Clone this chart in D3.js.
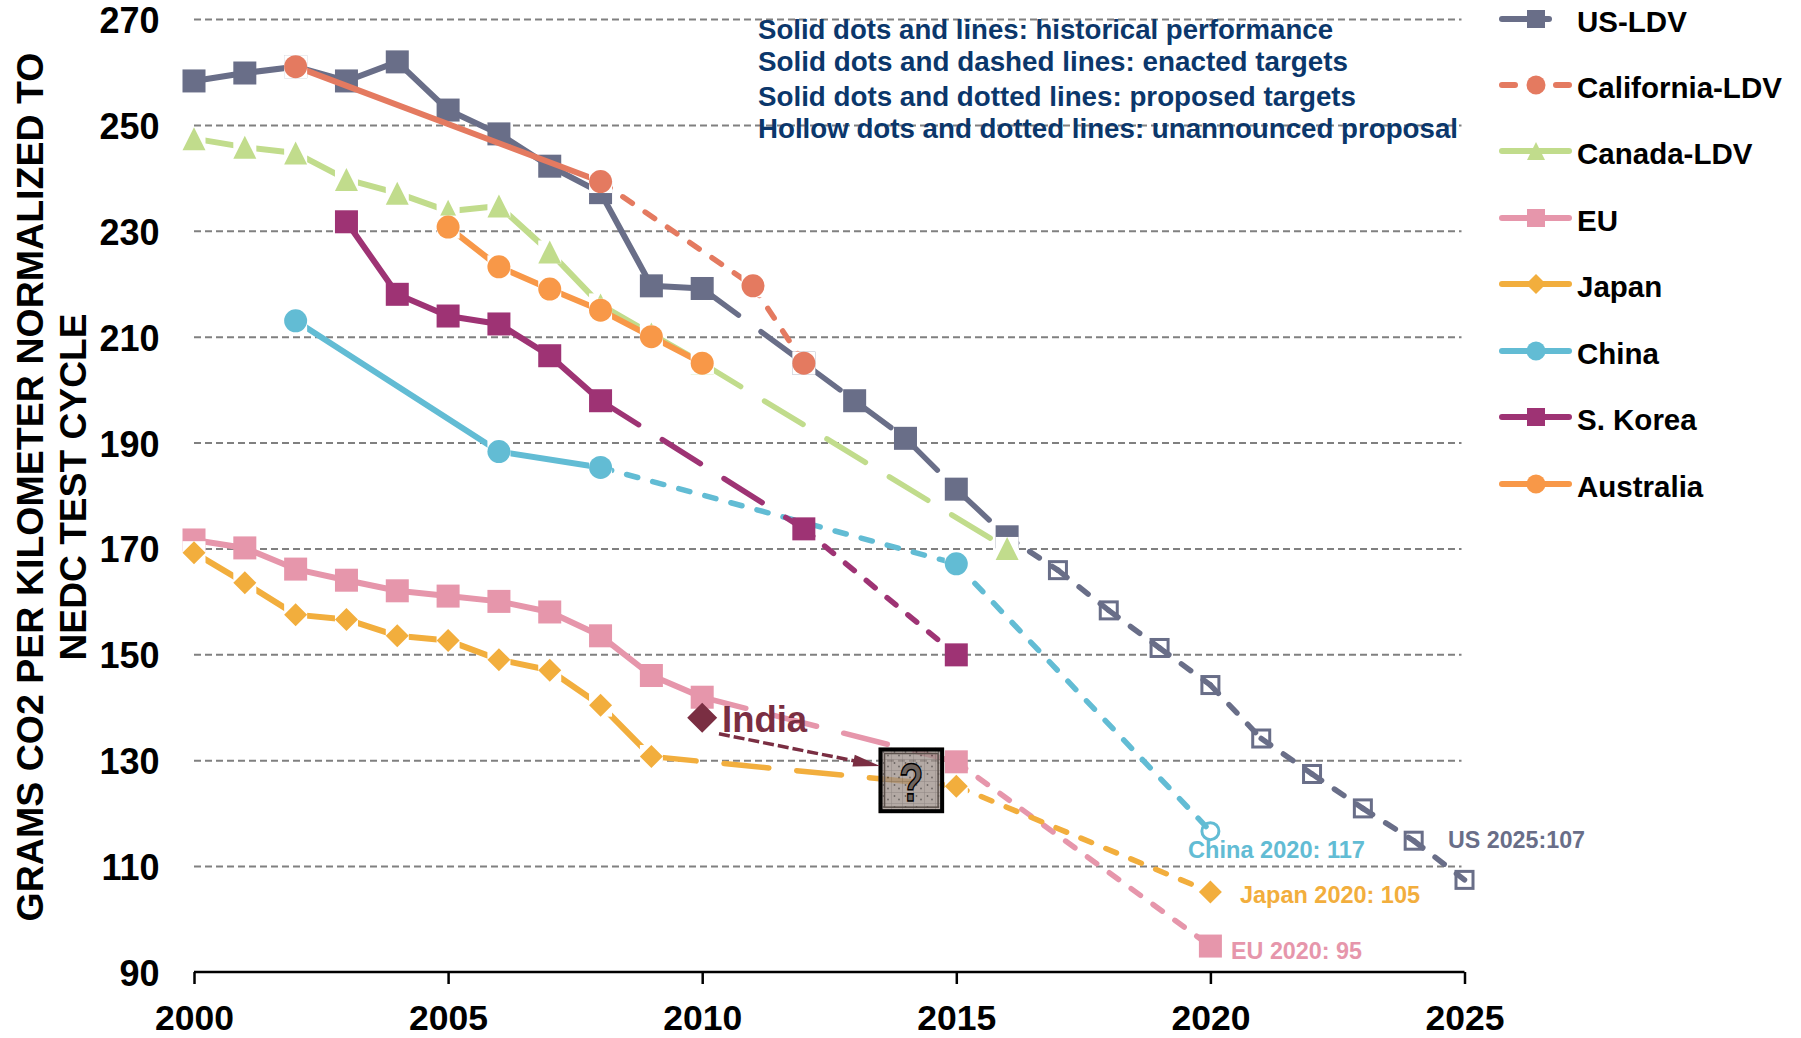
<!DOCTYPE html>
<html><head><meta charset="utf-8"><title>CO2 standards</title>
<script src="https://cdn.jsdelivr.net/npm/d3@7/dist/d3.min.js"></script>
<style>
html,body{margin:0;padding:0;background:#fff}
svg{display:block}
text{font-family:"Liberation Sans",Arial,sans-serif;font-weight:700}
</style></head><body><svg id="c" width="1801" height="1038"></svg>
<script>
// ---- data ----
const seriesNames = ["US-LDV","California-LDV","Canada-LDV","EU","Japan","China","S. Korea","Australia"];
const xTicks = [2000,2005,2010,2015,2020,2025];
const yTicks = [90,110,130,150,170,190,210,230,250,270];

const usYears  = [2000,2001,2002,2003,2004,2005,2006,2007,2008,2009,2010,2012,2013,2014,2015,2016,2017,2018,2019,2020,2021,2022,2023,2024,2025];
const usValues = [258.3,259.8,261,258.3,261.9,252.8,248.3,242.2,237.2,219.6,219.1,205,197.9,190.8,181.2,172.2,165.9,158.3,151.2,144.2,134.1,127.4,120.9,114.8,107.4];
const caYears  = [2002,2008,2011,2012];
const caValues = [261,239.3,219.6,205];
const cnYears  = [2000,2001,2002,2003,2004,2005,2006,2007,2008,2009,2010,2016];
const cnValues = [247.4,245.8,244.7,239.7,237.1,233.7,234.7,226,216,210.5,205,170];
const euYears  = [2000,2001,2002,2003,2004,2005,2006,2007,2008,2009,2010,2015,2020];
const euValues = [171.6,170.1,166.1,164,162,161,160,158,153.5,146,141.9,129.7,94.9];
const jpYears  = [2000,2001,2002,2003,2004,2005,2006,2007,2008,2009,2015,2020];
const jpValues = [169.2,163.5,157.5,156.6,153.5,152.6,149,147,140.4,130.7,125.1,105.1];
const chYears  = [2002,2006,2008,2015,2020];
const chValues = [213,188.3,185.3,167.1,116.6];
const krYears  = [2003,2004,2005,2006,2007,2008,2012,2015];
const krValues = [231.7,218,213.9,212.4,206.4,197.9,173.7,149.9];
const auYears  = [2005,2006,2007,2008,2009,2010];
const auValues = [230.7,223.2,219,215,210,205];

const indiaYear = [2010];
const indiaValue = [138];
const indiaArrowYears = [2010.33,2013.5];
const indiaArrowValues = [135,128.9];
const unknownBoxYears = [2013.47,2014.76];
const unknownBoxValues = [132.4,120];

const notes = ["Solid dots and lines: historical performance","Solid dots and dashed lines: enacted targets","Solid dots and dotted lines: proposed targets","Hollow dots and dotted lines: unannounced proposal"];
const yTitle = ["GRAMS CO2 PER KILOMETER NORMALIZED TO","NEDC TEST CYCLE"];
const endLabels = ["US 2025:107","China 2020: 117","Japan 2020: 105","EU 2020: 95"];

// ---- styling ----
const colors = {"US-LDV":"#696E88","California-LDV":"#E47A60","Canada-LDV":"#C1DC8C","EU":"#E696AB","Japan":"#F2AE3D","China":"#62BCD4","S. Korea":"#9E3374","Australia":"#F89848"};
const indiaColor = "#7A2E42", navy = "#0B376B";
const DASH = {solid:null,long:"45 28",short:"11.5 15.5"};
function kinds(n,runs){const k=[];for(let i=0;i<n;i++){let cur="solid";runs.forEach(r=>{if(i>=r[0])cur=r[1]});k.push(cur)}return k}
const series = [
 {name:"US-LDV",yrs:usYears,vals:usValues,shape:"square",runs:[[0,"solid"],[10,"long"],[15,"short"]],hollowFrom:16},
 {name:"California-LDV",yrs:caYears,vals:caValues,shape:"circle",runs:[[0,"solid"],[1,"short"]]},
 {name:"Canada-LDV",yrs:cnYears,vals:cnValues,shape:"triangle",runs:[[0,"solid"],[10,"long"]]},
 {name:"EU",yrs:euYears,vals:euValues,shape:"square",runs:[[0,"solid"],[10,"long"],[11,"short"]]},
 {name:"Japan",yrs:jpYears,vals:jpValues,shape:"diamond",runs:[[0,"solid"],[9,"long"],[10,"short"]]},
 {name:"China",yrs:chYears,vals:chValues,shape:"circle",runs:[[0,"solid"],[2,"short"]],hollowFrom:4},
 {name:"S. Korea",yrs:krYears,vals:krValues,shape:"square",runs:[[0,"solid"],[5,"long"],[6,"short"]]},
 {name:"Australia",yrs:auYears,vals:auValues,shape:"circle",runs:[[0,"solid"]]}
];

const svg = d3.select("#c");
const x = d3.scaleLinear().domain([2000,2025]).range([194,1464.5]);
const y = d3.scaleLinear().domain([90,270]).range([972,19]);
const line = d3.line().x(d=>x(d[0])).y(d=>y(d[1]));

// pattern for the "?" box
const defs = svg.append("defs");
const pat = defs.append("pattern").attr("id","tex").attr("patternUnits","userSpaceOnUse").attr("width",11).attr("height",11);
pat.append("rect").attr("width",11).attr("height",11).attr("fill","#9C8F89");
pat.append("path").attr("d","M0 0H11M0 0V11").attr("stroke","#5d524d").attr("stroke-width",1).attr("opacity",.8);
pat.append("circle").attr("cx",3.5).attr("cy",4).attr("r",.9).attr("fill","#3d3531");
pat.append("circle").attr("cx",8).attr("cy",7.5).attr("r",.9).attr("fill","#3d3531");

// gridlines
const grid = svg.append("g").attr("transform",`translate(${x(2000)},0)`)
  .call(d3.axisLeft(y).tickValues(yTicks.filter(v=>v>90)).tickSize(-(x(2025)-x(2000)-3)).tickFormat(""));
grid.select(".domain").remove();
grid.selectAll("line").attr("stroke","#808080").attr("stroke-width",2).attr("stroke-dasharray","7 4");

// y tick labels
const yAx = svg.append("g").attr("transform","translate(159.5,0.5)")
  .call(d3.axisLeft(y).tickValues(yTicks).tickSize(0).tickPadding(0));
yAx.select(".domain").remove();
yAx.selectAll("text").attr("font-size",36).attr("font-family",'"Liberation Sans",Arial,sans-serif').attr("font-weight",700).attr("fill","#000").attr("dy","0.36em");

// x axis
const xAx = svg.append("g").attr("transform",`translate(0,${y(90)})`)
  .call(d3.axisBottom(x).tickValues(xTicks).tickFormat(d3.format("d")).tickSizeOuter(0).tickSize(12).tickPadding(0));
xAx.select(".domain").attr("stroke","#000").attr("stroke-width",2.5).attr("d",`M${x(2000)},0H${x(2025)}`);
xAx.selectAll("line").attr("stroke","#000").attr("stroke-width",2.5);
xAx.selectAll("text").attr("font-size",35.5).attr("font-family",'"Liberation Sans",Arial,sans-serif').attr("font-weight",700).attr("fill","#000").attr("y",58).attr("dy",0);

// y title
svg.append("text").attr("transform","translate(43,487) rotate(-90)").attr("x",-434.5)
  .attr("font-size",37).attr("textLength",869).attr("lengthAdjust","spacingAndGlyphs").attr("fill","#000").text(yTitle[0]);
svg.append("text").attr("transform","translate(86,487) rotate(-90)").attr("x",-173.5)
  .attr("font-size",37).attr("textLength",347).attr("lengthAdjust","spacingAndGlyphs").attr("fill","#000").text(yTitle[1]);

// marker
function drawMarker(g,shape,cx,cy,s,col,hollow){
  const h=s/2;
  if(hollow){
    if(shape==="square") g.append("rect").attr("x",cx-h+1.5).attr("y",cy-h+1.5).attr("width",s-3).attr("height",s-3).attr("fill","#fff").attr("stroke",col).attr("stroke-width",3);
    else g.append("circle").attr("cx",cx).attr("cy",cy).attr("r",h-1.5).attr("fill","#fff").attr("stroke",col).attr("stroke-width",3);
    return;
  }
  if(shape==="square"){ g.append("rect").attr("x",cx-h).attr("y",cy-h).attr("width",s).attr("height",s).attr("fill",col); return; }
  g.append("rect").attr("x",cx-h).attr("y",cy-h).attr("width",s).attr("height",s).attr("fill","#fff");
  if(shape==="circle") g.append("circle").attr("cx",cx).attr("cy",cy).attr("r",h).attr("fill",col);
  if(shape==="triangle") g.append("path").attr("d",`M${cx},${cy-h}L${cx+h},${cy+h}L${cx-h},${cy+h}Z`).attr("fill",col);
  if(shape==="diamond") g.append("path").attr("d",`M${cx},${cy-h}L${cx+h},${cy}L${cx},${cy+h}L${cx-h},${cy}Z`).attr("fill",col);
}

// series
series.forEach(s=>{
  const g = svg.append("g").attr("class","series");
  const col = colors[s.name];
  const pts = d3.zip(s.yrs,s.vals);
  const k = kinds(pts.length-1,s.runs);
  pts.forEach((p,i)=>{ if(s.hollowFrom!==undefined && i>=s.hollowFrom) drawMarker(g,s.shape,x(p[0]),y(p[1]),20,col,true); });
  d3.pairs(pts).forEach((pair,i)=>{
    const seg = g.append("path").attr("d",line(pair)).attr("fill","none").attr("stroke",col)
      .attr("stroke-width",k[i]==="solid"?6:5.5).attr("stroke-linecap","round").attr("stroke-linejoin","round");
    if(DASH[k[i]]) seg.attr("stroke-dasharray",DASH[k[i]]);
  });
  pts.forEach((p,i)=>{ if(s.hollowFrom===undefined || i<s.hollowFrom) drawMarker(g,s.shape,x(p[0]),y(p[1]),23,col,false); });
});

// "?" box
const bx0=x(unknownBoxYears[0]), bx1=x(unknownBoxYears[1]), by0=y(unknownBoxValues[0]), by1=y(unknownBoxValues[1]);
const box = svg.append("g");
box.append("rect").attr("x",bx0).attr("y",by0).attr("width",bx1-bx0).attr("height",by1-by0).attr("fill","url(#tex)").attr("opacity",.76);
box.append("rect").attr("x",bx0+2).attr("y",by0+2).attr("width",bx1-bx0-4).attr("height",by1-by0-4).attr("fill","none").attr("stroke","#000").attr("stroke-width",4);
box.append("rect").attr("x",bx0+6).attr("y",by0+6).attr("width",bx1-bx0-12).attr("height",by1-by0-12).attr("fill","none").attr("stroke","#5a504b").attr("stroke-width",1.5);
box.append("text").attr("x",(bx0+bx1)/2-12).attr("y",by1-12).attr("font-size",54).attr("textLength",24).attr("lengthAdjust","spacingAndGlyphs")
  .attr("fill","#6e645e").attr("stroke","#000").attr("stroke-width",1.6).text("?");

// India
const ix=x(indiaYear[0]), iy=y(indiaValue[0]);
svg.append("path").attr("d",d3.symbol().type(d3.symbolSquare).size(2*15*15)).attr("transform",`translate(${ix},${iy}) rotate(45)`).attr("fill",indiaColor);
svg.append("text").attr("x",722).attr("y",732).attr("font-size",36.5).attr("fill",indiaColor).text("India");
const ax0=x(indiaArrowYears[0]),ay0=y(indiaArrowValues[0]),ax1=x(indiaArrowYears[1]),ay1=y(indiaArrowValues[1]);
const ang=Math.atan2(ay1-ay0,ax1-ax0), L=Math.hypot(ax1-ax0,ay1-ay0);
const ar=svg.append("g").attr("transform",`translate(${ax0},${ay0}) rotate(${ang*180/Math.PI})`);
ar.append("line").attr("x1",0).attr("x2",L-20).attr("y1",0).attr("y2",0).attr("stroke",indiaColor).attr("stroke-width",3.5).attr("stroke-dasharray","11 4");
ar.append("path").attr("d",`M${L},0L${L-27},-6L${L-27},6Z`).attr("fill",indiaColor);

// notes
const noteY=[39,71,106,138];
svg.append("g").selectAll("text").data(notes).join("text")
  .attr("x",758).attr("y",(d,i)=>noteY[i]).attr("font-size",28).attr("fill",navy).text(d=>d)
  .attr("textLength",(d,i)=>[575,590,598,700][i]).attr("lengthAdjust","spacingAndGlyphs");

// end labels
const labelPos=[[1448,848,137],[1188,858,177],[1240,903,180],[1231,959,131]];
const labelCol=[colors["US-LDV"],colors["China"],colors["Japan"],colors["EU"]];
svg.append("g").selectAll("text").data(endLabels).join("text")
  .attr("x",(d,i)=>labelPos[i][0]).attr("y",(d,i)=>labelPos[i][1]).attr("font-size",23)
  .attr("textLength",(d,i)=>labelPos[i][2]).attr("lengthAdjust","spacingAndGlyphs")
  .attr("fill",(d,i)=>labelCol[i]).text(d=>d);

// legend
const legY=[19,85,151,218,284,351,417,484];
const legDash={"US-LDV":"47 100","California-LDV":"13 41"};
seriesNames.forEach((n,i)=>{
  const g=svg.append("g"), s=series[i], cy=legY[i];
  g.append("line").attr("x1",1502).attr("x2",1569).attr("y1",cy).attr("y2",cy).attr("stroke",colors[n]).attr("stroke-width",6).attr("stroke-linecap","round")
    .attr("stroke-dasharray",legDash[n]||null);
  if(s.shape==="square") g.append("rect").attr("x",1527).attr("y",cy-9).attr("width",18).attr("height",18).attr("fill",colors[n]);
  if(s.shape==="circle") g.append("circle").attr("cx",1536).attr("cy",cy).attr("r",9.5).attr("fill",colors[n]);
  if(s.shape==="triangle") g.append("path").attr("d",`M1536,${cy-9}L1545,${cy+9}L1527,${cy+9}Z`).attr("fill",colors[n]);
  if(s.shape==="diamond") g.append("path").attr("d",`M1536,${cy-10}L1546,${cy}L1536,${cy+10}L1526,${cy}Z`).attr("fill",colors[n]);
  g.append("text").attr("x",1577).attr("y",cy+12.5).attr("font-size",29.5).attr("fill","#000").text(n);
});
</script></body></html>
